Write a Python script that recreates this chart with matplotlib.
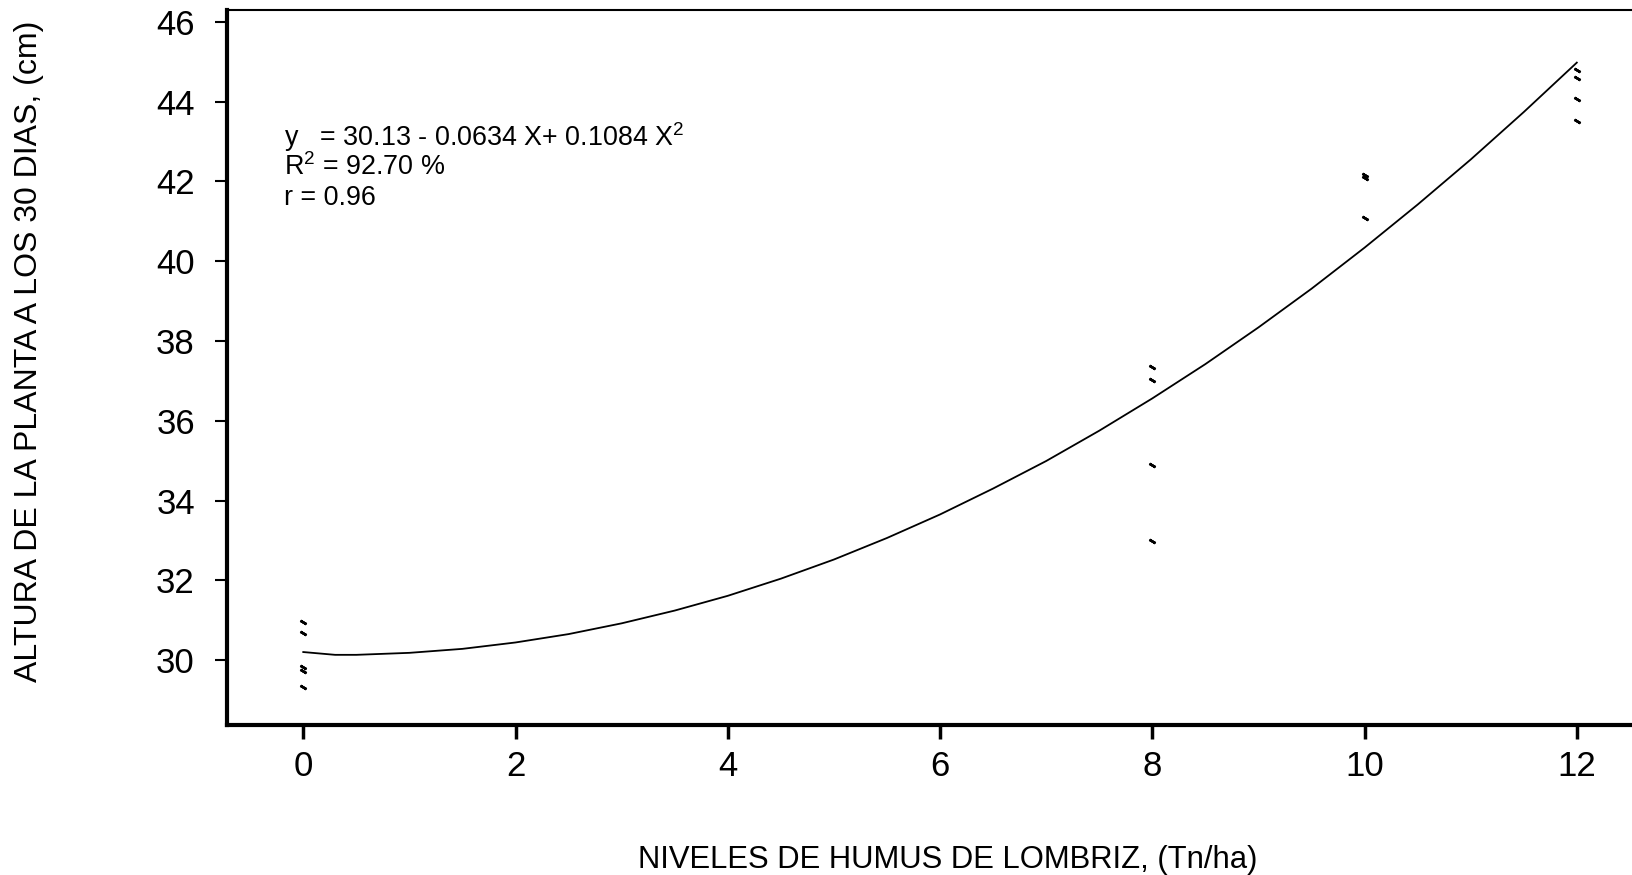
import numpy as np
import matplotlib.pyplot as plt

plt.rcParams['font.family'] = ['Liberation Sans', 'DejaVu Sans']
plt.rcParams['mathtext.fontset'] = 'custom'
plt.rcParams['mathtext.rm'] = 'Liberation Sans'

# observaciones (nivel de humus, altura)
obs_x = [0, 0, 0, 0, 0,
         8, 8, 8, 8,
         10, 10, 10,
         12, 12, 12, 12]
obs_y = [30.96, 30.68, 29.82, 29.72, 29.32,
         37.35, 37.03, 34.89, 32.98,
         42.16, 42.08, 41.09,
         44.80, 44.60, 44.08, 43.52]

# curva ajustada
curva_x = [0, 0.3, 0.5, 1, 1.5, 2, 2.5, 3, 3.5, 4, 4.5, 5, 5.5, 6, 6.5,
           7, 7.5, 8, 8.5, 9, 9.5, 10, 10.5, 11, 11.5, 12]
curva_y = [30.20, 30.13, 30.13, 30.18, 30.28, 30.44, 30.65, 30.92, 31.24,
           31.61, 32.04, 32.52, 33.06, 33.65, 34.30, 34.99, 35.75, 36.56,
           37.42, 38.34, 39.31, 40.34, 41.42, 42.55, 43.74, 44.98]

xticks = [0, 2, 4, 6, 8, 10, 12]
yticks = [30, 32, 34, 36, 38, 40, 42, 44, 46]

fig = plt.figure(figsize=(16.32, 8.75), dpi=100)
ax = fig.add_axes([0.139, 0.1714, 0.861, 0.8172])

ax.plot(curva_x, curva_y, color='black', lw=1.3)
ax.plot(obs_x, obs_y, ls='none', marker=(2, 2, 60), ms=5, mew=1.8, color='black')

ax.set_xlim(-0.72, 12.52)
ax.set_ylim(28.37, 46.3)
ax.set_xticks(xticks)
ax.set_yticks(yticks)
ax.tick_params(axis='x', direction='out', length=10, width=2.5, pad=8, labelsize=25)
ax.tick_params(axis='y', direction='out', length=9, width=1.5, pad=14, labelsize=25)

ax.spines['right'].set_visible(False)
ax.spines['left'].set_linewidth(3)
ax.spines['bottom'].set_linewidth(3)
ax.spines['top'].set_linewidth(1.5)

ax.set_xlabel('NIVELES DE HUMUS DE LOMBRIZ, (Tn/ha)', fontsize=22.3)
ax.xaxis.set_label_coords(0.513, -0.168)
ax.set_ylabel('ALTURA DE LA PLANTA A LOS 30 DIAS, (cm)', fontsize=23)
ax.yaxis.set_label_coords(-0.130, 0.523)

ax.text(0.041, 0.810, 'y   = 30.13 - 0.0634 X+ 0.1084 X$^{\\mathrm{2}}$', transform=ax.transAxes,
        fontsize=19.4, va='baseline')
ax.text(0.041, 0.769, 'R$^{\\mathrm{2}}$ = 92.70 %', transform=ax.transAxes,
        fontsize=19.4, va='baseline')
ax.text(0.041, 0.727, 'r = 0.96', transform=ax.transAxes,
        fontsize=19.4, va='baseline')

fig.savefig('out.png', dpi=100)
